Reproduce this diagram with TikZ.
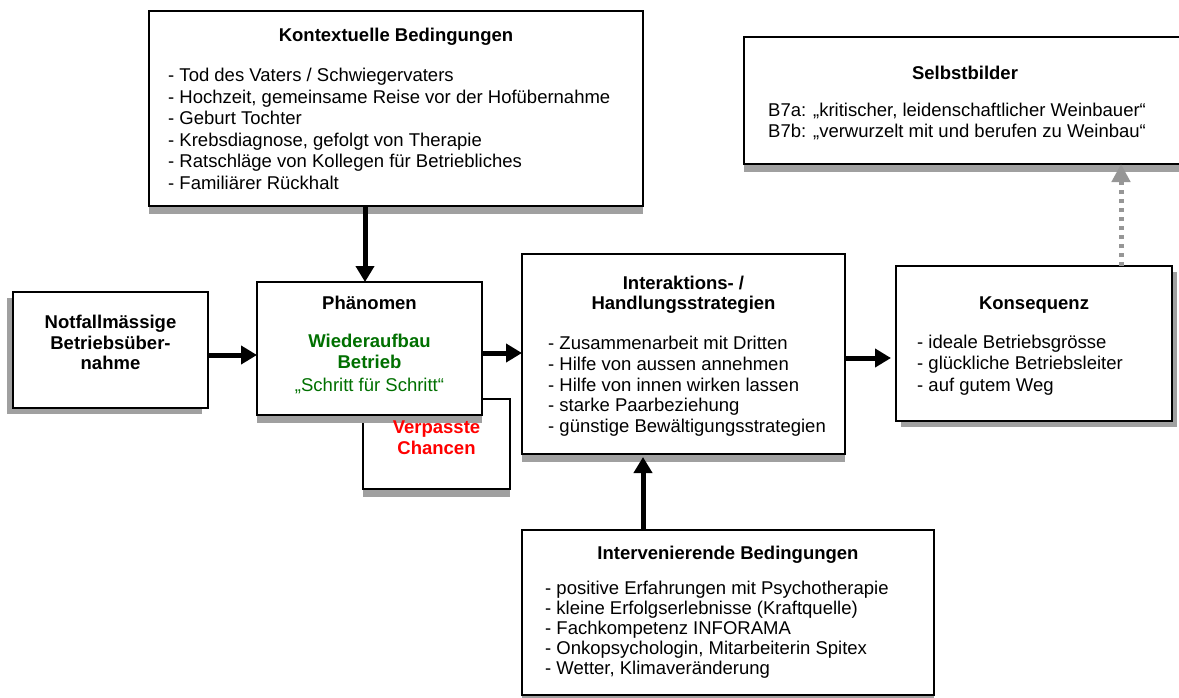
\documentclass[tikz,border=0pt]{standalone}
\usepackage{fontspec}
\setmainfont{Liberation Sans}
\usetikzlibrary{arrows.meta,shadows}

\definecolor{shade}{RGB}{160,160,160}
\definecolor{leaf}{RGB}{0,112,0}
\definecolor{alarm}{RGB}{255,0,0}
\definecolor{linkgray}{RGB}{150,150,150}

% left-aligned stack of lines whose baseline is the first line
\newcommand\linelist[1]{\begin{tabular}[t]{@{}l@{}}#1\end{tabular}}

\tikzset{
  panel/.style={draw=black, line width=1.3pt, fill=white, inner sep=0pt,
    outer sep=0pt, anchor=north west},
  shadowed/.style={drop shadow={shadow xshift=#1, shadow yshift=-8pt,
    fill=shade, opacity=1}},
  shadowed/.default=0pt,
  headline/.style={anchor=base, inner sep=0pt, font=\bfseries\fontsize{18.5}{21}\selectfont},
  plainline/.style={anchor=base, inner sep=0pt, font=\fontsize{18.5}{21}\selectfont},
  bullets/.style={anchor=base west, inner sep=0pt, font=\fontsize{18.5}{#1}\selectfont},
  flow/.style={line width=5pt, -{Triangle[length=16pt,width=18pt]}},
  selfflow/.style={draw=linkgray, line width=5pt, dash pattern=on 4.5pt off 4.5pt,
    -{Triangle[length=18pt,width=18pt,fill=linkgray]}},
}

\begin{document}
\begin{tikzpicture}[x=1pt,y=-1pt]
\useasboundingbox (0,0) rectangle (1179,697);

% ---------- boxes ----------
\node[panel, shadowed, minimum width=494pt, minimum height=195pt] (ctx) at (149,11) {};
\node[panel, drop shadow={shadow xshift=-6pt, shadow yshift=-6pt, fill=shade, opacity=1},
      minimum width=195pt, minimum height=116pt] (notf) at (13,292) {};
\node[panel, shadowed, minimum width=147pt, minimum height=90pt] (miss) at (363,399) {};
\node[panel, shadowed, minimum width=225pt, minimum height=133pt] (phen) at (257,282) {};
\node[panel, shadowed, minimum width=323pt, minimum height=200pt] (inter) at (522,254) {};
\node[panel, drop shadow={shadow xshift=5pt, shadow yshift=-6pt, fill=shade, opacity=1},
      minimum width=276pt, minimum height=155pt] (kons) at (896,266) {};
\node[panel, shadowed, minimum width=442pt, minimum height=127pt] (selb) at (744,37) {};
\node[panel, shadowed, minimum width=412pt, minimum height=165pt] (interv) at (522,530) {};

% ---------- Kontextuelle Bedingungen ----------
\node[headline] (ctxT) at (396,41.5) {Kontextuelle Bedingungen};
\node[bullets=21.5] (ctxL) at (168,81.5) {\linelist{%
  - Tod des Vaters / Schwiegervaters\\
  - Hochzeit, gemeinsame Reise vor der Hofübernahme\\
  - Geburt Tochter\\
  - Krebsdiagnose, gefolgt von Therapie\\
  - Ratschläge von Kollegen für Betriebliches\\
  - Familiärer Rückhalt}};

% ---------- Notfallmässige Betriebsübernahme ----------
\node[headline] (notfA) at (110.5,328.5) {Notfallmässige};
\node[headline] (notfB) at (110.5,349) {Betriebsüber-};
\node[headline] (notfC) at (110.5,369.5) {nahme};

% ---------- Phänomen ----------
\node[headline] (phenT) at (369.5,309.5) {Phänomen};
\node[headline, text=leaf] (phenA) at (369.5,347.5) {Wiederaufbau};
\node[headline, text=leaf] (phenB) at (369.5,368.5) {Betrieb};
\node[plainline, text=leaf] (phenC) at (369.5,391) {„Schritt für Schritt“};

% ---------- Verpasste Chancen ----------
\node[headline, text=alarm] (missA) at (436.5,433.5) {Verpasste};
\node[headline, text=alarm] (missB) at (436.5,454.5) {Chancen};

% ---------- Interaktions- / Handlungsstrategien ----------
\node[headline] (interT1) at (683.5,289.5) {Interaktions- /};
\node[headline] (interT2) at (683.5,309.5) {Handlungsstrategien};
\node[bullets=20.8] (interL) at (548,349.5) {\linelist{%
  - Zusammenarbeit mit Dritten\\
  - Hilfe von aussen annehmen\\
  - Hilfe von innen wirken lassen\\
  - starke Paarbeziehung\\
  - günstige Bewältigungsstrategien}};

% ---------- Konsequenz ----------
\node[headline] (konsT) at (1034,309.5) {Konsequenz};
\node[bullets=21.6] (konsL) at (917,348) {\linelist{%
  - ideale Betriebsgrösse\\
  - glückliche Betriebsleiter\\
  - auf gutem Weg}};

% ---------- Selbstbilder ----------
\node[headline] (selbT) at (965,79.5) {Selbstbilder};
\node[bullets=20.5] (selbL) at (768,116.5) {\linelist{%
  B7a: „kritischer, leidenschaftlicher Weinbauer“\\
  B7b: „verwurzelt mit und berufen zu Weinbau“}};

% ---------- Intervenierende Bedingungen ----------
\node[headline] (intervT) at (728,559.5) {Intervenierende Bedingungen};
\node[bullets=20.2] (intervL) at (545,594) {\linelist{%
  - positive Erfahrungen mit Psychotherapie\\
  - kleine Erfolgserlebnisse (Kraftquelle)\\
  - Fachkompetenz INFORAMA\\
  - Onkopsychologin, Mitarbeiterin Spitex\\
  - Wetter, Klimaveränderung}};

% ---------- connectors ----------
\draw[flow] ([xshift=-31pt]ctx.south) -- ([xshift=-31pt]ctx.south |- phen.north);
\draw[flow] ([yshift=-5pt]notf.east) -- ([yshift=-5pt]notf.east -| phen.west);
\draw[flow] ([yshift=-4.5pt]phen.east) -- ([yshift=-4.5pt]phen.east -| inter.west);
\draw[flow, shorten >=5pt] ([yshift=-4pt]inter.east) -- ([yshift=-4pt]inter.east -| kons.west);
\draw[flow, shorten >=3pt] ([xshift=-85pt]interv.north) -- ([xshift=-85pt]interv.north |- inter.south);
\draw[selfflow] ([xshift=87pt]kons.north) -- ([xshift=87pt]kons.north |- selb.south);
\end{tikzpicture}
\end{document}
